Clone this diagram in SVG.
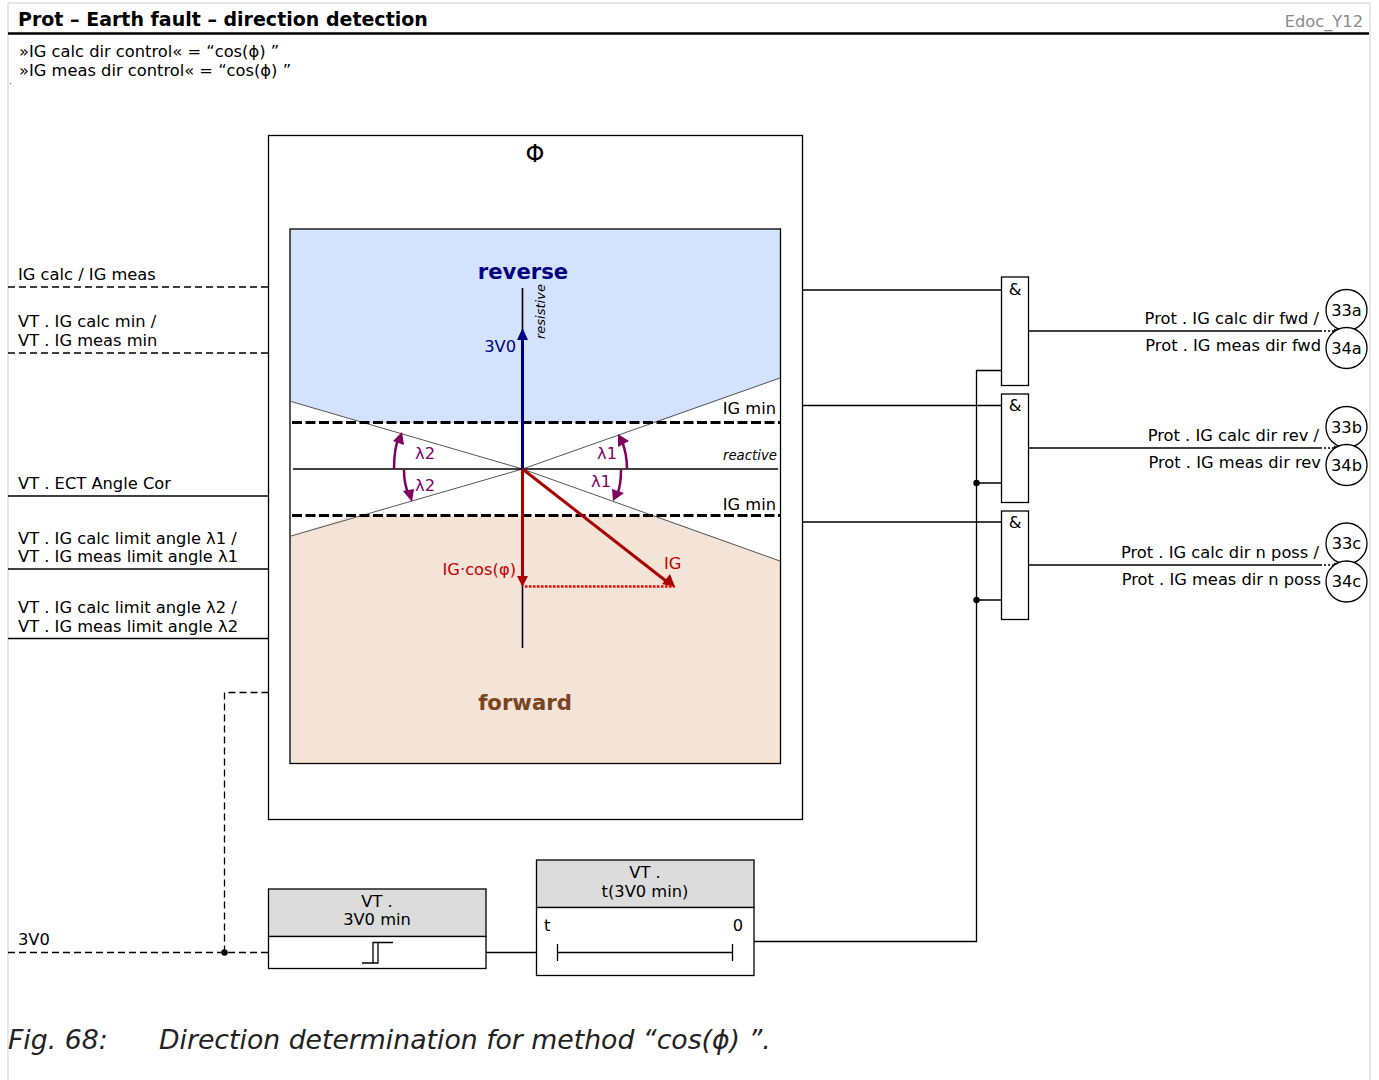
<svg xmlns="http://www.w3.org/2000/svg" width="1379" height="1080" viewBox="0 0 1379 1080">
<style>
text{font-family:"DejaVu Sans",sans-serif;font-size:16.300px;fill:#000}
.m{text-anchor:middle}
.e{text-anchor:end}
.box{fill:#fff;stroke:#000;stroke-width:1.300}
.hd{fill:#dcdcdc;stroke:#000;stroke-width:1.300}
.l{fill:none;stroke:#000;stroke-width:1.300}
.d{fill:none;stroke:#000;stroke-width:1.300;stroke-dasharray:7 4}
.o{fill:none;stroke:#000;stroke-width:1.300;stroke-dasharray:2 2}
.th{fill:none;stroke:#555;stroke-width:1}
.pu{fill:none;stroke:#800060;stroke-width:2.500}
.puf{fill:#800060}
.put{fill:#800060}
.red{fill:#c00000}
</style>
<g id="frame">
<path d="M8 3H1370M8 3V1080M1370 3V1080" fill="none" stroke="#e6e6e6" stroke-width="2"/>
<path d="M8 33.500H1369" stroke="#000" stroke-width="2.500"/>
<text x="18" y="26" style="font-size:19px;font-weight:bold">Prot – Earth fault – direction detection</text>
<text x="1363" y="27" class="e" style="fill:#8a8a8a">Edoc_Y12</text>
<text x="19" y="57">»IG calc dir control« = “cos(ϕ) ”</text>
<text x="19" y="76">»IG meas dir control« = “cos(ϕ) ”</text>
<rect x="10" y="83" width="1" height="1" fill="#555"/>
</g>
<g id="phi-block">
<rect x="268.500" y="135.500" width="534" height="684" class="box"/>
<text x="535" y="162" class="m" style="font-size:24px">Φ</text>
<rect x="290" y="229" width="490.500" height="534.500" fill="#fff"/>
<path d="M290 229H780.500V378L655 423H363L290 401Z" fill="#d3e3fd"/>
<path d="M352 515.500H655L780.500 561V763.500H290V536Z" fill="#f4e3d7"/>
<rect x="290" y="229" width="490.500" height="534.500" fill="none" stroke="#000" stroke-width="1.300"/>
<path d="M291 401.500L522.500 469L780 378M291 536L522.500 469L780 561" class="th"/>
<path d="M292 422.500H780M292 515.500H780" fill="none" stroke="#000" stroke-width="2.800" stroke-dasharray="10 3.500"/>
<path d="M293 469H778" class="l" style="stroke-width:1.600"/>
<path d="M522.500 288V648" class="l" style="stroke-width:1.600"/>
<path d="M522.500 469V338" stroke="#000080" stroke-width="3" fill="none"/>
<path d="M522.500 328L528 340H517Z" fill="#000080"/>
<path d="M522.500 469V577" stroke="#aa0000" stroke-width="3" fill="none"/>
<path d="M522.500 587L517 576H528Z" fill="#aa0000"/>
<path d="M522.500 469L666 581" stroke="#aa0000" stroke-width="3" fill="none"/>
<path d="M675 587L662 584L670 574Z" fill="#aa0000"/>
<path d="M525 586.500H675" stroke="#ff0000" stroke-width="2.500" stroke-dasharray="2.500 1.500" fill="none"/>
<path d="M394 469C394 456 395 446 399 437" class="pu"/><path d="M402 432L404 445L393 441Z" class="puf"/>
<path d="M404 470C404 481 406 489 409 495" class="pu"/><path d="M412 502L403 491L414 489Z" class="puf"/>
<path d="M627 469C627 456 625 449 622 441" class="pu"/><path d="M618 434L629 441L618 447Z" class="puf"/>
<path d="M621 470C621 481 620 488 617 495" class="pu"/><path d="M613 501L612 489L624 493Z" class="puf"/>
<text x="415" y="459" class="put">λ2</text>
<text x="415" y="491" class="put">λ2</text>
<text x="597" y="459" class="put">λ1</text>
<text x="591" y="487" class="put">λ1</text>
<text x="523" y="279" class="m" style="font-size:21.200px;font-weight:bold;fill:#000080">reverse</text>
<text x="525" y="710" class="m" style="font-size:21.200px;font-weight:bold;fill:#784421">forward</text>
<text x="516" y="352" class="e" style="fill:#000080">3V0</text>
<text x="516" y="575" class="e red">IG·cos(φ)</text>
<text x="664" y="569" class="red">IG</text>
<text x="776" y="414" class="e">IG min</text>
<text x="776" y="510" class="e">IG min</text>
<text x="777" y="460" class="e" style="font-size:13.300px;font-style:italic">reactive</text>
<text transform="translate(545 339) rotate(-90)" style="font-size:13px;font-style:italic">resistive</text>
</g>
<g id="connectors">
<path d="M8 287H268M8 353H268M8 952.500H268M224.500 952.500V692.500H268" class="d"/>
<path d="M8 496H268M8 569H268M8 638.500H268M486 952.500H536M754 941.500H976.500V370.500H1001M976.500 483H1001M976.500 600H1001M802.500 290H1001M802.500 405.500H1001M802.500 522H1001M1029 331H1320M1029 448H1320M1029 565H1320" class="l"/>
<path d="M1320 331H1334M1320 448H1334M1320 565H1334" class="o"/>
<path d="M1334 328.500L1339 331L1334 333.500ZM1334 445.500L1339 448L1334 450.500ZM1334 562.500L1339 565L1334 567.500Z"/>
<circle cx="224.500" cy="952.500" r="3.200"/>
<circle cx="976.500" cy="483" r="3.200"/>
<circle cx="976.500" cy="600" r="3.200"/>
</g>
<g id="input-labels">
<text x="18" y="280">IG calc / IG meas</text>
<text x="18" y="327">VT . IG calc min /</text>
<text x="18" y="346">VT . IG meas min</text>
<text x="18" y="489">VT . ECT Angle Cor</text>
<text x="18" y="543.500">VT . IG calc limit angle λ1 /</text>
<text x="18" y="562">VT . IG meas limit angle λ1</text>
<text x="18" y="612.500">VT . IG calc limit angle λ2 /</text>
<text x="18" y="631.500">VT . IG meas limit angle λ2</text>
<text x="18" y="945">3V0</text>
</g>
<g id="and-a"><rect x="1001.500" y="277" width="27" height="108.500" class="box"/><text x="1015" y="295" class="m">&amp;</text></g>
<g id="and-b"><rect x="1001.500" y="394" width="27" height="108.500" class="box"/><text x="1015" y="411" class="m">&amp;</text></g>
<g id="and-c"><rect x="1001.500" y="511" width="27" height="108.500" class="box"/><text x="1015" y="528" class="m">&amp;</text></g>
<g id="out-a">
<text x="1319" y="324" class="e">Prot . IG calc dir fwd /</text><text x="1321" y="351" class="e">Prot . IG meas dir fwd</text>
<circle cx="1346.500" cy="310" r="20.500" class="box"/><circle cx="1346.500" cy="348" r="20.500" class="box"/>
<text x="1346.500" y="316" class="m">33a</text><text x="1346.500" y="354" class="m">34a</text>
</g>
<g id="out-b">
<text x="1319" y="441" class="e">Prot . IG calc dir rev /</text><text x="1321" y="468" class="e">Prot . IG meas dir rev</text>
<circle cx="1346.500" cy="427" r="20.500" class="box"/><circle cx="1346.500" cy="465" r="20.500" class="box"/>
<text x="1346.500" y="433" class="m">33b</text><text x="1346.500" y="471" class="m">34b</text>
</g>
<g id="out-c">
<text x="1319" y="558" class="e">Prot . IG calc dir n poss /</text><text x="1321" y="585" class="e">Prot . IG meas dir n poss</text>
<circle cx="1346.500" cy="543.500" r="20.500" class="box"/><circle cx="1346.500" cy="581.500" r="20.500" class="box"/>
<text x="1346.500" y="549" class="m">33c</text><text x="1346.500" y="587" class="m">34c</text>
</g>
<g id="v3-min">
<rect x="268.500" y="889" width="217.500" height="47.500" class="hd"/><rect x="268.500" y="936.500" width="217.500" height="32" class="box"/>
<text x="377" y="907" class="m">VT .</text><text x="377" y="925" class="m">3V0 min</text>
<path d="M362 963H378V942.500H393M373 963V942.500H378" class="l"/>
</g>
<g id="t-min">
<rect x="536.500" y="860" width="217.500" height="47.500" class="hd"/><rect x="536.500" y="907.500" width="217.500" height="68" class="box"/>
<text x="645" y="878" class="m">VT .</text><text x="645" y="897" class="m">t(3V0 min)</text>
<text x="544" y="931">t</text><text x="743" y="931" class="e">0</text>
<path d="M557.500 944V961M732.500 944V961M557.500 952.500H732.500" class="l"/>
</g>
<text x="8" y="1049" style="font-size:26.700px;font-style:italic;fill:#222">Fig. 68:</text>
<text x="159" y="1049" style="font-size:26.700px;font-style:italic;fill:#222">Direction determination for method “cos(ϕ) ”.</text>
</svg>
